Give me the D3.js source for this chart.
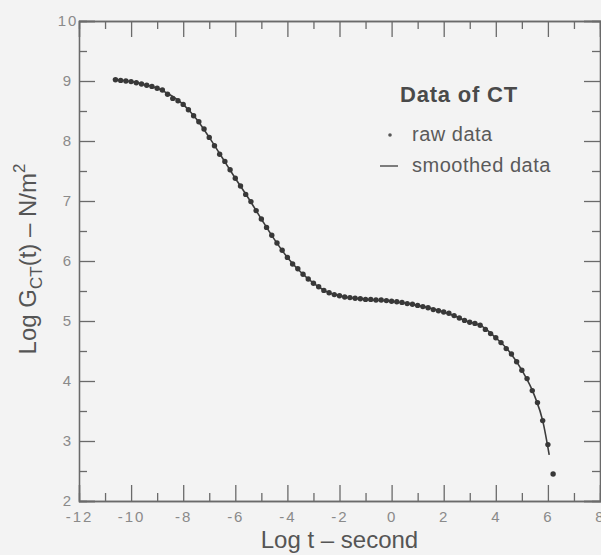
<!DOCTYPE html>
<html>
<head>
<meta charset="utf-8">
<script src="https://cdn.jsdelivr.net/npm/d3@7"></script>
<style>
  body { margin: 0; background: #f3f3f3; }
  svg { display: block; font-family: "Liberation Sans", Arial, sans-serif; }
</style>
</head>
<body>
<svg class="relax-chart" width="601" height="555"></svg>
<script>
// raw data points (log t, log G)
const rawT = [-10.6, -10.4, -10.2, -10.0, -9.8, -9.6, -9.4, -9.2, -9.0, -8.8, -8.6, -8.4, -8.2, -8.0,
  -7.8, -7.6, -7.4, -7.2, -7.0, -6.8, -6.6, -6.4, -6.2, -6.0, -5.8, -5.6, -5.4, -5.2, -5.0,
  -4.8, -4.6, -4.4, -4.2, -4.0, -3.8, -3.6, -3.4, -3.2, -3.0, -2.8, -2.6, -2.4, -2.2, -2.0,
  -1.8, -1.6, -1.4, -1.2, -1.0, -0.8, -0.6, -0.4, -0.2, 0.0, 0.2, 0.4, 0.6, 0.8, 1.0,
  1.2, 1.4, 1.6, 1.8, 2.0, 2.2, 2.4, 2.6, 2.8, 3.0, 3.2, 3.4, 3.6, 3.8, 4.0, 4.2, 4.4,
  4.6, 4.8, 5.0, 5.2, 5.4, 5.6, 5.8, 6.0, 6.2];
const rawG = [9.02, 9.01, 9.00, 8.99, 8.97, 8.95, 8.93, 8.91, 8.88, 8.85, 8.78, 8.71, 8.67, 8.61,
  8.52, 8.42, 8.32, 8.20, 8.06, 7.92, 7.78, 7.66, 7.52, 7.38, 7.25, 7.11, 6.99, 6.84, 6.70,
  6.56, 6.43, 6.30, 6.18, 6.06, 5.95, 5.87, 5.78, 5.70, 5.63, 5.57, 5.51, 5.47, 5.44, 5.42,
  5.40, 5.39, 5.38, 5.37, 5.36, 5.36, 5.35, 5.35, 5.34, 5.33, 5.32, 5.31, 5.29, 5.28, 5.26,
  5.24, 5.22, 5.19, 5.17, 5.15, 5.13, 5.09, 5.05, 5.01, 4.98, 4.96, 4.93, 4.86, 4.79, 4.72,
  4.64, 4.54, 4.45, 4.32, 4.18, 4.04, 3.84, 3.64, 3.34, 2.94, 2.45];

// smoothed curve knots
const smoothT = [-10.7, -10.0, -9.0, -8.0, -7.5, -7.0, -6.5, -6.0, -5.5, -5.0, -4.5, -4.0, -3.5,
  -3.0, -2.5, -2.0, -1.0, 0.0, 1.0, 2.0, 2.6, 3.0, 3.2, 3.4, 4.0, 4.5, 5.0, 5.5, 5.8, 6.05];
const smoothG = [9.03, 8.99, 8.88, 8.61, 8.37, 8.06, 7.72, 7.38, 7.05, 6.70, 6.36, 6.06, 5.82,
  5.63, 5.49, 5.42, 5.36, 5.33, 5.26, 5.15, 5.05, 4.98, 4.96, 4.93, 4.72, 4.50, 4.18, 3.74, 3.34, 2.77];

const xMajor = [-12, -10, -8, -6, -4, -2, 0, 2, 4, 6, 8];
const xMinor = [-11, -9, -7, -5, -3, -1, 1, 3, 5, 7];
const yMajor = [2, 3, 4, 5, 6, 7, 8, 9, 10];
const yMinor = [2.5, 3.5, 4.5, 5.5, 6.5, 7.5, 8.5, 9.5];

const svg = d3.select('svg.relax-chart');
const mLeft = 79, mRight = 600, mTop = 21, mBottom = 501;

const x = d3.scaleLinear().domain([-12, 8]).range([mLeft, mRight]);
const y = d3.scaleLinear().domain([2, 10]).range([mBottom, mTop]);

const axisColor = '#6a6a6a';
const fmt = (d) => (d < 0 ? '-' + Math.abs(d) : '' + d);

function styleAxis(g) {
  g.select('.domain').attr('stroke', axisColor).attr('stroke-width', 1.3);
  g.selectAll('.tick line').attr('stroke', axisColor).attr('stroke-width', 1.3);
  g.selectAll('.tick text')
    .attr('fill', '#8a8a8a')
    .style('font-size', '15px')
    .style('letter-spacing', '2px');
}

// bottom axis
svg.append('g')
  .attr('transform', 'translate(0,' + mBottom + ')')
  .call(d3.axisBottom(x).tickValues(xMajor).tickSize(-16).tickPadding(10).tickFormat(fmt))
  .call(styleAxis)
  .call((g) => g.selectAll('.tick text').attr('y', 10));
svg.append('g')
  .attr('transform', 'translate(0,' + mBottom + ')')
  .call(d3.axisBottom(x).tickValues(xMinor).tickSize(-8).tickFormat(''))
  .call(styleAxis);

// top axis
svg.append('g')
  .attr('transform', 'translate(0,' + mTop + ')')
  .call(d3.axisTop(x).tickValues(xMajor).tickSize(-16).tickFormat(''))
  .call(styleAxis);
svg.append('g')
  .attr('transform', 'translate(0,' + mTop + ')')
  .call(d3.axisTop(x).tickValues(xMinor).tickSize(-8).tickFormat(''))
  .call(styleAxis);

// left axis
svg.append('g')
  .attr('transform', 'translate(' + mLeft + ',0)')
  .call(d3.axisLeft(y).tickValues(yMajor).tickSize(-16).tickFormat(fmt))
  .call(styleAxis)
  .call((g) => g.selectAll('.tick text').attr('text-anchor', 'middle').attr('x', -11));
svg.append('g')
  .attr('transform', 'translate(' + mLeft + ',0)')
  .call(d3.axisLeft(y).tickValues(yMinor).tickSize(-8).tickFormat(''))
  .call(styleAxis);

// right axis
svg.append('g')
  .attr('transform', 'translate(' + mRight + ',0)')
  .call(d3.axisRight(y).tickValues(yMajor).tickSize(-16).tickFormat(''))
  .call(styleAxis);
svg.append('g')
  .attr('transform', 'translate(' + mRight + ',0)')
  .call(d3.axisRight(y).tickValues(yMinor).tickSize(-8).tickFormat(''))
  .call(styleAxis);

// smoothed line
const line = d3.line()
  .x((d, i) => x(smoothT[i]))
  .y((d) => y(d))
  .curve(d3.curveMonotoneX);

svg.append('path')
  .datum(smoothG)
  .attr('d', line)
  .attr('fill', 'none')
  .attr('stroke', '#3c3c3c')
  .attr('stroke-width', 1.6);

// raw dots
svg.append('g')
  .selectAll('circle')
  .data(rawG)
  .join('circle')
  .attr('cx', (d, i) => x(rawT[i]))
  .attr('cy', (d) => y(d))
  .attr('r', 2.7)
  .attr('fill', '#383838');

// axis titles
svg.append('text')
  .attr('x', (mLeft + mRight) / 2)
  .attr('y', 548)
  .attr('text-anchor', 'middle')
  .attr('fill', '#555')
  .style('font-size', '24px')
  .text('Log t \u2013 second');

const yTitle = svg.append('text')
  .attr('transform', 'translate(36,' + ((mTop + mBottom) / 2 - 2) + ') rotate(-90)')
  .attr('text-anchor', 'middle')
  .attr('fill', '#555')
  .style('font-size', '24px');
yTitle.append('tspan').text('Log G');
yTitle.append('tspan').attr('dy', 6).style('font-size', '17px').text('CT');
yTitle.append('tspan').attr('dy', -6).text('(t) \u2013 N/m');
yTitle.append('tspan').attr('dy', -11).style('font-size', '17px').text('2');

// legend
const legend = svg.append('g').attr('fill', '#5a5a5a');
legend.append('text')
  .attr('x', 400).attr('y', 102)
  .style('font-size', '22px').style('font-weight', 'bold')
  .style('letter-spacing', '0.8px')
  .attr('fill', '#4a4a4a')
  .text('Data of CT');
legend.append('circle')
  .attr('cx', 390).attr('cy', 135).attr('r', 1.8).attr('fill', '#555');
legend.append('text')
  .attr('x', 412).attr('y', 141)
  .style('font-size', '20px')
  .style('letter-spacing', '0.5px')
  .text('raw data');
legend.append('line')
  .attr('x1', 380).attr('x2', 398).attr('y1', 166).attr('y2', 166)
  .attr('stroke', '#555').attr('stroke-width', 1.5);
legend.append('text')
  .attr('x', 412).attr('y', 172)
  .style('font-size', '20px')
  .style('letter-spacing', '0.5px')
  .text('smoothed data');
</script>
</body>
</html>
